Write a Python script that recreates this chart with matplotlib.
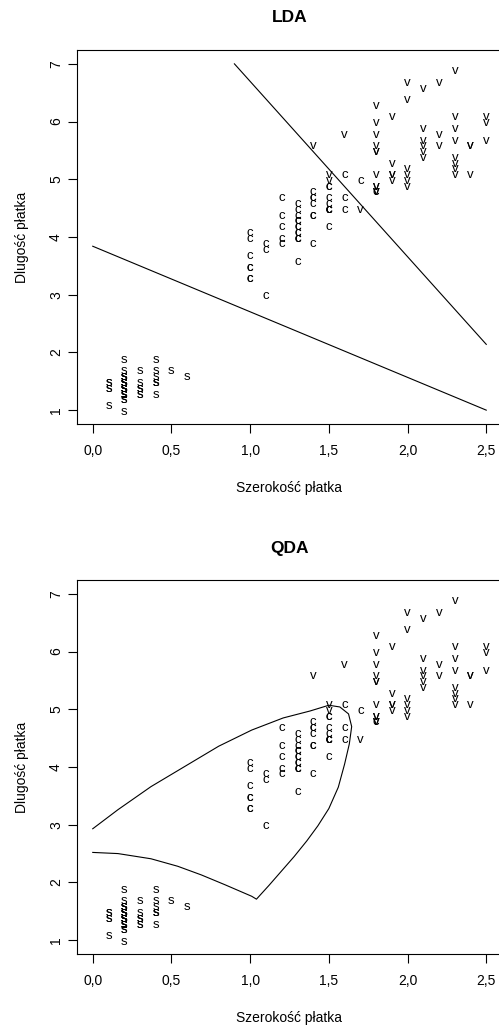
import matplotlib
matplotlib.use('Agg')
import matplotlib.pyplot as plt

plt.rcParams['font.family'] = ['Liberation Sans', 'DejaVu Sans']

# iris petal measurements (width, length) per species
setosa_w = [0.2, 0.2, 0.2, 0.2, 0.2, 0.4, 0.3, 0.2, 0.2, 0.1,
            0.2, 0.2, 0.1, 0.1, 0.2, 0.4, 0.4, 0.3, 0.3, 0.3,
            0.2, 0.4, 0.2, 0.5, 0.2, 0.2, 0.4, 0.2, 0.2, 0.2,
            0.2, 0.4, 0.1, 0.2, 0.2, 0.2, 0.2, 0.1, 0.2, 0.2,
            0.3, 0.3, 0.2, 0.6, 0.4, 0.3, 0.2, 0.2, 0.2, 0.2]
setosa_l = [1.4, 1.4, 1.3, 1.5, 1.4, 1.7, 1.4, 1.5, 1.4, 1.5,
            1.5, 1.6, 1.4, 1.1, 1.2, 1.5, 1.3, 1.4, 1.7, 1.5,
            1.7, 1.5, 1.0, 1.7, 1.9, 1.6, 1.6, 1.5, 1.4, 1.6,
            1.6, 1.5, 1.5, 1.4, 1.5, 1.2, 1.3, 1.4, 1.3, 1.5,
            1.3, 1.3, 1.3, 1.6, 1.9, 1.4, 1.6, 1.4, 1.5, 1.4]
versicolor_w = [1.4, 1.5, 1.5, 1.3, 1.5, 1.3, 1.6, 1.0, 1.3, 1.4,
                1.0, 1.5, 1.0, 1.4, 1.3, 1.4, 1.5, 1.0, 1.5, 1.1,
                1.8, 1.3, 1.5, 1.2, 1.3, 1.4, 1.4, 1.7, 1.5, 1.0,
                1.1, 1.0, 1.2, 1.6, 1.5, 1.6, 1.5, 1.3, 1.3, 1.3,
                1.2, 1.4, 1.2, 1.0, 1.3, 1.2, 1.3, 1.3, 1.1, 1.3]
versicolor_l = [4.7, 4.5, 4.9, 4.0, 4.6, 4.5, 4.7, 3.3, 4.6, 3.9,
                3.5, 4.2, 4.0, 4.7, 3.6, 4.4, 4.5, 4.1, 4.5, 3.9,
                4.8, 4.0, 4.9, 4.7, 4.3, 4.4, 4.8, 5.0, 4.5, 3.5,
                3.8, 3.7, 3.9, 5.1, 4.5, 4.5, 4.7, 4.4, 4.1, 4.0,
                4.4, 4.6, 4.0, 3.3, 4.2, 4.2, 4.2, 4.3, 3.0, 4.1]
virginica_w = [2.5, 1.9, 2.1, 1.8, 2.2, 2.1, 1.7, 1.8, 1.8, 2.5,
               2.0, 1.9, 2.1, 2.0, 2.4, 2.3, 1.8, 2.2, 2.3, 1.5,
               2.3, 2.0, 2.0, 1.8, 2.1, 1.8, 1.8, 1.8, 2.1, 1.6,
               1.9, 2.0, 2.2, 1.5, 1.4, 2.3, 2.4, 1.8, 1.8, 2.1,
               2.4, 2.3, 1.9, 2.3, 2.5, 2.3, 1.9, 2.0, 2.3, 1.8]
virginica_l = [6.0, 5.1, 5.9, 5.6, 5.8, 6.6, 4.5, 6.3, 5.8, 6.1,
               5.1, 5.3, 5.5, 5.0, 5.1, 5.3, 5.5, 6.7, 6.9, 5.0,
               5.7, 4.9, 6.7, 4.9, 5.7, 6.0, 4.8, 4.9, 5.6, 5.8,
               6.1, 6.4, 5.6, 5.1, 5.6, 6.1, 5.6, 5.5, 4.8, 5.4,
               5.6, 5.1, 5.1, 5.9, 5.7, 5.2, 5.0, 5.2, 5.4, 5.1]
class_letters = ['s', 'c', 'v']

# LDA boundaries
lda_upper_x = [0.90, 2.50]
lda_upper_y = [7.00, 2.14]
lda_lower_x = [0.00, 2.50]
lda_lower_y = [3.84, 1.00]

# QDA boundary, traced from the upper left round
qda_x = [0.00, 0.16, 0.37, 0.585, 0.80, 1.01, 1.21, 1.38, 1.50, 1.57,
         1.625, 1.645, 1.63, 1.60, 1.56, 1.50, 1.43, 1.36, 1.28, 1.20,
         1.12, 1.04, 1.01, 0.84, 0.69, 0.54, 0.37, 0.16, 0.00]
qda_y = [2.93, 3.26, 3.66, 4.01, 4.36, 4.64, 4.85, 4.97, 5.07, 5.04,
         4.92, 4.70, 4.40, 4.05, 3.65, 3.28, 2.98, 2.72, 2.45, 2.20,
         1.95, 1.71, 1.76, 1.96, 2.13, 2.28, 2.41, 2.50, 2.52]

x_ticks = [0.0, 0.5, 1.0, 1.5, 2.0, 2.5]
y_ticks = [1, 2, 3, 4, 5, 6, 7]

W, H = 499, 1027


def draw_panel(fig, top_px, title, lines):
    ax = fig.add_axes([77 / W, 1 - (top_px + 374) / H, 425 / W, 374 / H])
    groups = [(setosa_w, setosa_l), (versicolor_w, versicolor_l),
              (virginica_w, virginica_l)]
    for (xs, ys), letter in zip(groups, class_letters):
        for x, y in zip(xs, ys):
            ax.annotate(letter, (x, y), xytext=(0, -1.2),
                        textcoords='offset points', ha='center',
                        va='center', fontsize=9.5)
    for xs, ys in lines:
        ax.plot(xs, ys, color='black', linewidth=0.8)

    ax.set_xlim(-0.1, 2.6)
    ax.set_ylim(0.76, 7.24)
    ax.set_xticks(x_ticks)
    ax.set_xticklabels([f'{t:.1f}'.replace('.', ',') for t in x_ticks])
    ax.set_yticks(y_ticks)
    ax.set_yticklabels([str(t) for t in y_ticks])
    for lbl in ax.get_yticklabels():
        lbl.set_rotation(90)
        lbl.set_va('center')
    ax.tick_params(axis='x', length=6.5, width=0.8, pad=8, labelsize=10)
    ax.tick_params(axis='y', length=6.5, width=0.8, pad=3.5, labelsize=10)
    for sp in ax.spines.values():
        sp.set_linewidth(0.8)

    fig.text(289.5 / W, 1 - (top_px - 32) / H, title, ha='center',
             va='center', fontsize=12.5, fontweight='bold')
    fig.text(289.5 / W, 1 - (top_px + 442) / H, 'Szerokość płatka',
             ha='center', va='baseline', fontsize=10)
    fig.text(26 / W, 1 - (top_px + 187) / H, 'Dlugość płatka',
             ha='center', va='baseline', rotation=90,
             rotation_mode='anchor', fontsize=10)
    return ax


def main():
    fig = plt.figure(figsize=(W / 100, H / 100), dpi=100)
    draw_panel(fig, 50, 'LDA', [(lda_upper_x, lda_upper_y),
                                (lda_lower_x, lda_lower_y)])
    draw_panel(fig, 580, 'QDA', [(qda_x, qda_y)])
    fig.savefig('out.png', dpi=100)


if __name__ == '__main__':
    main()
